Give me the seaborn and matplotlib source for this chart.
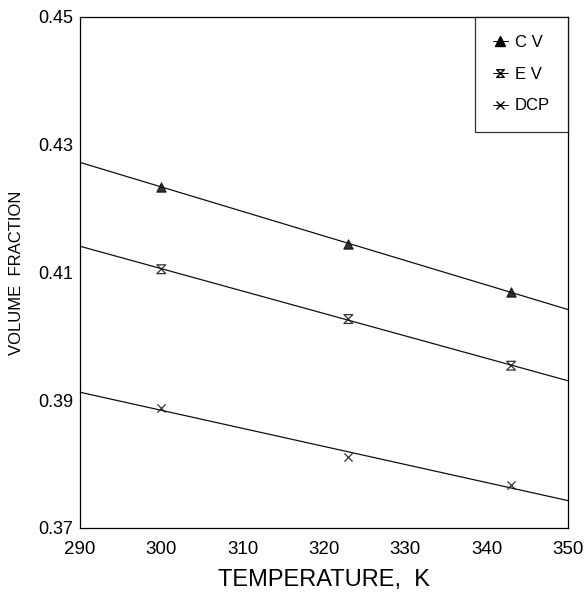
import numpy as np
import pandas as pd
import matplotlib
matplotlib.use("Agg")
import matplotlib.pyplot as plt
from matplotlib.lines import Line2D
from matplotlib.path import Path
import seaborn as sns

temps = [300, 323, 343]
cv = [0.4234, 0.4145, 0.4069]
ev = [0.4105, 0.4027, 0.3954]
dcp = [0.3888, 0.3811, 0.3767]
series_names = ["C V", "E V", "DCP"]
x_ticks = [290, 300, 310, 320, 330, 340, 350]
y_ticks = [0.37, 0.39, 0.41, 0.43, 0.45]

sns.set_theme(style="white")
plt.rcParams['font.family'] = ['Liberation Sans', 'DejaVu Sans']
plt.rcParams['text.color'] = 'black'
plt.rcParams['axes.labelcolor'] = 'black'
plt.rcParams['xtick.color'] = 'black'
plt.rcParams['ytick.color'] = 'black'

hourglass = Path([(-1, 1), (1, 1), (-1, -1), (1, -1), (-1, 1)],
                 [Path.MOVETO, Path.LINETO, Path.LINETO, Path.LINETO, Path.CLOSEPOLY])

fig = plt.figure(figsize=(5.88, 6.0), dpi=100)
ax = fig.add_axes([0.136, 0.12, 0.83, 0.852])
ax.set_xlim(290, 350)
ax.set_ylim(0.37, 0.45)

df = pd.DataFrame({"T": temps, "C V": cv, "E V": ev, "DCP": dcp})
styles = {
    "C V": dict(marker="^", s=45, facecolors="black", edgecolors="black", linewidths=0.8),
    "E V": dict(marker=hourglass, s=40, facecolors="none", edgecolors="black", linewidths=0.9),
    "DCP": dict(marker="x", s=35, color="black", linewidths=0.9),
}
for name in series_names:
    kws = dict(styles[name])
    mk = kws.pop("marker")
    sns.regplot(data=df, x="T", y=name, ax=ax, ci=None, truncate=False,
                marker=mk, color="black",
                scatter_kws=kws, line_kws=dict(lw=0.9, color="#111111"))

ax.set_xlim(290, 350)
ax.set_ylim(0.37, 0.45)
ax.set_xticks(x_ticks)
ax.set_yticks(y_ticks)
ax.set_xticklabels([str(t) for t in x_ticks], fontsize=13.5)
ax.set_yticklabels([f"{t:.2f}" for t in y_ticks], fontsize=13)
ax.tick_params(axis="x", length=0, pad=9)
ax.tick_params(axis="y", length=0, pad=5)
ax.set_xlabel("TEMPERATURE,  K", fontsize=17, labelpad=8)
ax.set_ylabel("VOLUME  FRACTION", fontsize=12, labelpad=10)
for sp in ax.spines.values():
    sp.set_color("black")
    sp.set_linewidth(0.9)

handles = [
    Line2D([], [], color="black", lw=0.7, marker="^", markersize=7, markerfacecolor="black"),
    Line2D([], [], color="black", lw=0.7, marker=hourglass, markersize=5.5, markerfacecolor="none"),
    Line2D([], [], color="black", lw=0.7, marker="x", markersize=6),
]
leg = ax.legend(handles, series_names, loc="upper right", fontsize=12,
                frameon=True, fancybox=False, handlelength=0.9, handletextpad=0.4,
                borderpad=1.1, labelspacing=1.0, borderaxespad=0.0)
leg.get_frame().set_edgecolor("black")
leg.get_frame().set_linewidth(0.9)

fig.savefig("out.png", dpi=100)
